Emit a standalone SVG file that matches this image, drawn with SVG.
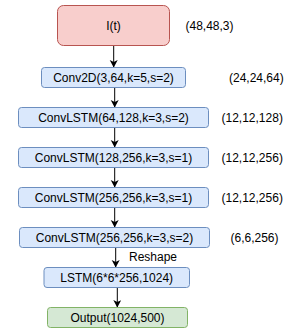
<svg xmlns="http://www.w3.org/2000/svg" width="286" height="328" viewBox="0 0 286 328">
<defs>
<marker id="ah" markerWidth="8" markerHeight="9" refX="7" refY="4" orient="auto" markerUnits="userSpaceOnUse">
<path d="M0,0 L7.5,4 L0,8 L2,4 Z" fill="#000"/>
</marker>
<style>
text{font-family:"Liberation Sans",Arial,sans-serif;font-size:12px;fill:#000}
.c{text-anchor:middle}
.red{fill:#f8cecc;stroke:#b85450}
.blue{fill:#dae8fc;stroke:#6c8ebf}
.green{fill:#d5e8d4;stroke:#82b366}
.e{stroke:#000;stroke-width:1;fill:none;marker-end:url(#ah)}
</style>
</defs>
<rect width="286" height="328" fill="#fff"/>
<g id="connectors">
<line class="e" x1="113.7" y1="45.5" x2="113.7" y2="67"/>
<line class="e" x1="114.7" y1="87.5" x2="114.7" y2="107"/>
<line class="e" x1="114.7" y1="127.5" x2="114.7" y2="147"/>
<line class="e" x1="114.7" y1="167.5" x2="114.7" y2="187"/>
<line class="e" x1="114.7" y1="207.5" x2="114.7" y2="227"/>
<line class="e" x1="115.7" y1="247.5" x2="115.7" y2="267"/>
<line class="e" x1="117.3" y1="287.5" x2="117.3" y2="307"/>
<text x="129" y="261">Reshape</text>
</g>
<g id="input">
<rect class="red" x="57.5" y="5.5" width="112" height="40" rx="6"/>
<text class="c" x="113.5" y="30">I(t)</text>
<text x="185.5" y="30">(48,48,3)</text>
</g>
<g id="conv2d">
<rect class="blue" x="41.5" y="67.5" width="144" height="20" rx="3"/>
<text class="c" x="113.5" y="82">Conv2D(3,64,k=5,s=2)</text>
<text x="229" y="82">(24,24,64)</text>
</g>
<g id="convlstm1">
<rect class="blue" x="18.5" y="107.5" width="190" height="20" rx="3"/>
<text class="c" x="113.5" y="122">ConvLSTM(64,128,k=3,s=2)</text>
<text x="221.5" y="122">(12,12,128)</text>
</g>
<g id="convlstm2">
<rect class="blue" x="18.5" y="147.5" width="190" height="20" rx="3"/>
<text class="c" x="113.5" y="162">ConvLSTM(128,256,k=3,s=1)</text>
<text x="221.5" y="162">(12,12,256)</text>
</g>
<g id="convlstm3">
<rect class="blue" x="18.5" y="187.5" width="190" height="20" rx="3"/>
<text class="c" x="113.5" y="202">ConvLSTM(256,256,k=3,s=1)</text>
<text x="221.5" y="202">(12,12,256)</text>
</g>
<g id="convlstm4">
<rect class="blue" x="19.5" y="227.5" width="190" height="20" rx="3"/>
<text class="c" x="114.5" y="242">ConvLSTM(256,256,k=3,s=2)</text>
<text x="230.5" y="242">(6,6,256)</text>
</g>
<g id="lstm">
<rect class="blue" x="44" y="267.5" width="145.5" height="20" rx="3"/>
<text class="c" x="116.7" y="282">LSTM(6*6*256,1024)</text>
</g>
<g id="output">
<rect class="green" x="47.5" y="307.5" width="140" height="20" rx="3"/>
<text class="c" x="117.5" y="322">Output(1024,500)</text>
</g>
</svg>
